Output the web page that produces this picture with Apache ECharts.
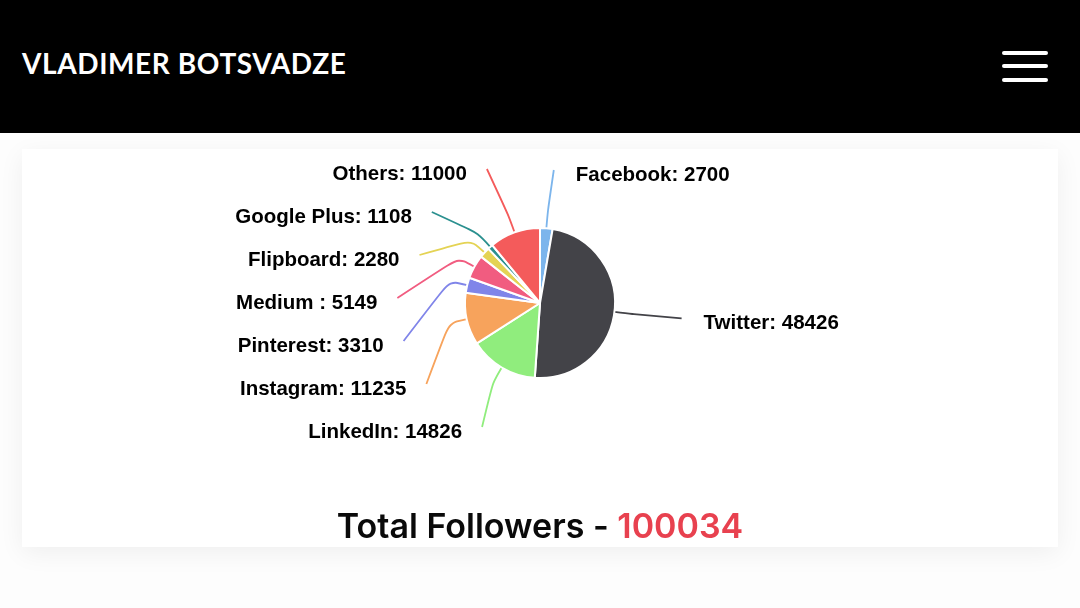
<!DOCTYPE html>
<html>
  <head>
    <meta charset="UTF-8">
    <script src="https://cdn.jsdelivr.net/npm/echarts@6/dist/echarts.min.js"></script>
    <title>Followers</title>
    <style>
      body { margin: 0; background: #fdfdfd; font-family: "Liberation Sans", Arial, sans-serif; }
      #header { position: absolute; left: 0; top: 0; width: 1080px; height: 133px; background: #000; }
      #brand { position: absolute; left: 22px; top: 46px; color: #fff; font: 700 28px "Lato", sans-serif; letter-spacing: 0.6px; }
      .bar { position: absolute; left: 1002px; width: 46px; height: 4px; border-radius: 2px; background: #fff; }
      #card { position: absolute; left: 22px; top: 149px; width: 1036px; height: 398px; background: #fff;
              box-shadow: 0 6px 24px rgba(0,0,0,0.06); }
      #main { position: absolute; left: 0; top: 0; width: 1080px; height: 608px; }
    </style>
  </head>

  <body>
    <div id="header">
      <div id="brand">VLADIMER BOTSVADZE</div>
      <div class="bar" style="top:51px"></div>
      <div class="bar" style="top:64px"></div>
      <div class="bar" style="top:78px"></div>
    </div>
    <div id="card"></div>
    <div id="main"></div>
    <script type="text/javascript">
      // data (clockwise from 12 o'clock)
      var networks = ['Facebook', 'Twitter', 'LinkedIn', 'Instagram', 'Pinterest',
                      'Medium ', 'Flipboard', 'Google Plus', 'Others'];
      var followers = [2700, 48426, 14826, 11235, 3310, 5149, 2280, 1108, 11000];
      var colors = ['#7cb5ec', '#434348', '#90ed7d', '#f7a35c', '#8085e9',
                    '#f15c80', '#e4d354', '#2b908f', '#f45b5b'];

      var total = followers.reduce(function (a, b) { return a + b; }, 0);

      var cx = 540, cy = 303, r = 75;
      var labelR = r + 88;   // natural label radius
      var gap = 43;          // vertical slot height
      var topY = cy - 129, botY = cy + 128;

      // mid angle of each slice, degrees clockwise from top
      var mids = [];
      var acc = 0;
      followers.forEach(function (v) {
        var span = v / total * 360;
        mids.push(acc + span / 2);
        acc += span;
      });
      function rad(d) { return d * Math.PI / 180; }

      // spread labels on each side into slots, highcharts style
      var labelY = [];
      function distribute(list) {
        var items = list.map(function (i) {
          return { i: i, y: cy - labelR * Math.cos(rad(mids[i])) };
        }).sort(function (a, b) { return a.y - b.y; });
        items.forEach(function (it) { it.y = Math.min(Math.max(it.y, topY), botY); });
        for (var k = 1; k < items.length; k++) {
          items[k].y = Math.max(items[k].y, items[k - 1].y + gap);
        }
        items[items.length - 1].y = Math.min(items[items.length - 1].y, botY);
        for (var k = items.length - 2; k >= 0; k--) {
          items[k].y = Math.min(items[k].y, items[k + 1].y - gap);
        }
        items.forEach(function (it) { labelY[it.i] = it.y; });
      }
      var leftSide = [], rightSide = [];
      mids.forEach(function (m, i) { (m > 180 ? leftSide : rightSide).push(i); });
      distribute(leftSide);
      distribute(rightSide);

      var myChart = echarts.init(document.getElementById('main'));

      var option = {
        animation: false,
        color: colors,
        title: {
          left: 'center',
          top: 506,
          text: '{a|Total Followers - }{b|' + total + '}',
          textStyle: {
            rich: {
              a: { fontFamily: 'Inter', fontWeight: 600, fontSize: 34, color: '#0a0a0a' },
              b: { fontFamily: 'Inter', fontWeight: 600, fontSize: 34, color: '#e8414f' }
            }
          }
        },
        series: [{
          type: 'pie',
          center: [cx, cy],
          radius: r,
          startAngle: 90,
          clockwise: true,
          emphasis: { disabled: true },
          itemStyle: { borderColor: '#fff', borderWidth: 2 },
          label: {
            formatter: '{b}: {c}',
            fontFamily: 'Liberation Sans',
            fontWeight: 'bold',
            fontSize: 20.5,
            color: '#000'
          },
          labelLine: { show: true, smooth: 0.3, lineStyle: { width: 1.8 } },
          labelLayout: function (p) {
            var i = p.dataIndex;
            var th = rad(mids[i]);
            var sn = Math.sin(th), cs = Math.cos(th);
            var left = sn < 0;
            var dy = labelY[i] - cy;
            var ell = 143 * Math.sqrt(Math.max(0, 1 - (dy / 140) * (dy / 140)));
            var dx = Math.min(ell, Math.abs(labelR * sn));
            var ex = cx + (left ? -dx : dx);
            var ey = labelY[i] - 4;
            return {
              x: ex + (left ? -20 : 22),
              y: labelY[i] + 1,
              align: left ? 'right' : 'left',
              verticalAlign: 'middle',
              labelLinePoints: [
                [cx + r * sn, cy - r * cs],
                [cx + (r + 18) * sn, cy - (r + 18) * cs],
                [ex, ey]
              ]
            };
          },
          data: networks.map(function (n, i) {
            return { name: n, value: followers[i] };
          })
        }]
      };

      myChart.setOption(option);
    </script>
  </body>
</html>
